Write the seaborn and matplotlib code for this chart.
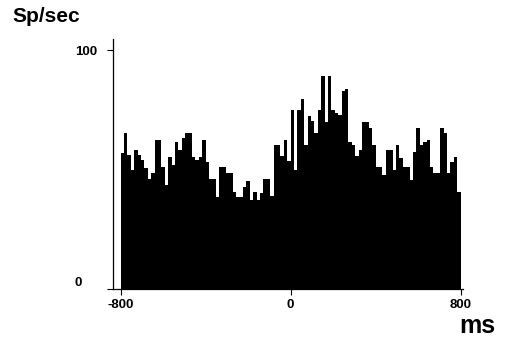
import numpy as np
import pandas as pd
import matplotlib
matplotlib.use("Agg")
import matplotlib.pyplot as plt
import seaborn as sns

# Peri-stimulus time histogram: 100 bins of 16 ms from -800 to 800 ms
bin_start_ms = -800
bin_end_ms = 800
bin_width_ms = 16
rates = [
    57.0, 65.1, 56.1, 49.8, 58.2, 56.1, 54.0, 50.5, 45.9, 48.4,
    62.3, 62.3, 51.2, 43.5, 55.4, 51.9, 61.4, 58.0, 63.1, 65.1,
    65.1, 55.4, 54.0, 55.4, 62.3, 53.3, 45.9, 45.9, 38.6, 51.2,
    51.2, 48.4, 48.4, 40.7, 38.6, 38.6, 42.8, 45.2, 37.2, 40.7,
    37.2, 40.3, 45.9, 45.9, 38.9, 60.3, 60.3, 55.6, 62.3, 53.6,
    74.9, 49.8, 74.9, 79.5, 60.3, 72.5, 70.4, 65.4, 74.9, 89.1,
    70.0, 89.1, 74.9, 73.6, 72.8, 82.8, 83.7, 61.6, 60.3, 55.6,
    58.2, 70.0, 70.0, 67.2, 60.3, 51.2, 51.2, 47.7, 58.2, 58.2,
    50.0, 60.3, 54.7, 51.2, 51.2, 45.6, 57.4, 67.2, 60.3, 61.5,
    62.3, 51.2, 48.4, 48.4, 67.2, 65.1, 48.4, 53.3, 55.4, 40.7,
]
x_ticks = [-800, 0, 800]
x_tick_labels = ["-800", "0", "800"]
y_ticks = [0, 100]
y_tick_labels = ["0", "100"]
y_label = "Sp/sec"
x_label = "ms"

n = len(rates)
centers = bin_start_ms + bin_width_ms * (np.arange(n) + 0.5)
df = pd.DataFrame({"t": centers, "rate": rates})

sns.set_style("ticks")
plt.rcParams["font.family"] = ["Liberation Sans", "DejaVu Sans"]
plt.rcParams["text.color"] = "black"

fig = plt.figure(figsize=(5.09, 3.46), dpi=100)
ax = fig.add_axes([0.222, 0.1647, 0.6876, 0.7225])

sns.histplot(data=df, x="t", weights="rate", binwidth=bin_width_ms,
             binrange=(bin_start_ms, bin_end_ms), color="black",
             fill=True, alpha=1, linewidth=0, element="bars", ax=ax)

ax.set_xlim(-836, 811)
ax.set_ylim(0, 104.6)
ax.set_xticks(x_ticks)
ax.set_xticklabels(x_tick_labels, fontsize=9.5, fontweight="bold", color="black")
ax.set_yticks(y_ticks)
ax.set_yticklabels(y_tick_labels, fontsize=9.5, fontweight="bold", color="black")
for t in ax.get_yticklabels():
    t.set_ha("left")
ax.get_yticklabels()[0].set_va("bottom")
ax.tick_params(axis="y", direction="out", length=4, width=0.8, pad=23.5, colors="black")
ax.tick_params(axis="x", direction="out", length=4.5, width=0.8, pad=2.5, colors="black")
ax.set_xlabel("")
ax.set_ylabel("")
for s in ["top", "right"]:
    ax.spines[s].set_visible(False)
for s in ["left", "bottom"]:
    ax.spines[s].set_color("black")
    ax.spines[s].set_linewidth(0.9)

fig.text(12 / 509, 1 - 17 / 346, y_label, fontsize=15, fontweight="bold",
         ha="left", va="center", color="black")
fig.text(477 / 509, 1 - 326 / 346, x_label, fontsize=18, fontweight="bold",
         ha="center", va="center", color="black")

fig.savefig("out.png", dpi=100)
